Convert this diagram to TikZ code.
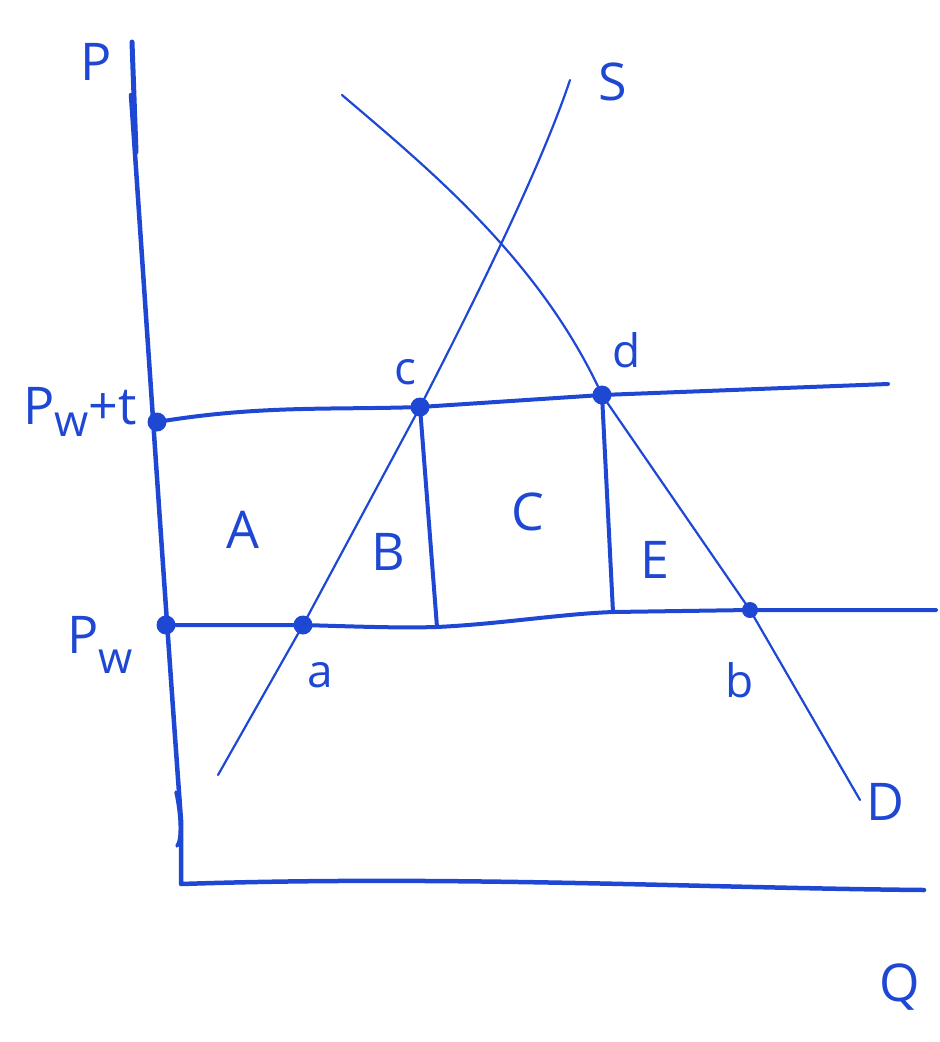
\documentclass[tikz,border=0pt]{standalone}
\usepackage{fontspec}
\setmainfont{Open Sans}
\definecolor{ink}{RGB}{30,72,212}
\begin{document}
\begin{tikzpicture}[x=1pt,y=-1pt,
  axis/.style={draw=ink,line width=4.5pt,line cap=round,line join=round},
  pline/.style={draw=ink,line width=4pt,line cap=round,line join=round},
  curve/.style={draw=ink,line width=2.2pt,line cap=round},
  dot/.style={circle,fill=ink,inner sep=0pt,minimum size=19pt},
  lab/.style={text=ink,font=\fontsize{52}{58}\selectfont,inner sep=0pt},
  slab/.style={text=ink,font=\fontsize{46}{52}\selectfont,inner sep=0pt}]
\useasboundingbox (0,0) rectangle (940,1042);
% key points
\coordinate (ytop) at (131,95);
\coordinate (origin) at (181,884);
\coordinate (xend) at (924,890);
\coordinate (c) at (420,407);
\coordinate (d) at (602,395);
\coordinate (a) at (303,625);
\coordinate (b) at (750,610);
\coordinate (pt) at (157,422);
\coordinate (pw) at (166,625);
\coordinate (cfoot) at (437,627);
\coordinate (dfoot) at (613,612);
% axes
\draw[axis] (ytop) .. controls (145,300) and (165,600) .. (181,820) -- (origin)
  .. controls (450,875) and (700,888) .. (xend);
\draw[axis,line width=5pt] (132,42) -- (136,152);
\draw[axis,line width=3.5pt] (176,792) .. controls (181,815) and (182,840) .. (177,846);
% horizontal price lines
\draw[pline] (pt) .. controls (260,405) and (330,410) .. (c)
  -- (d) -- (888,384);
\draw[pline] (pw) -- (a) .. controls (370,627) and (400,628) .. (cfoot)
  .. controls (500,624) and (560,614) .. (dfoot) -- (b) -- (936,610);
% verticals
\draw[pline] (c) -- (cfoot);
\draw[pline] (d) -- (dfoot);
% supply
\draw[curve] (218,775) -- (a) -- (c) .. controls (470,310) and (540,170) .. (570,80);
% demand
\draw[curve] (342,95) .. controls (430,170) and (540,260) .. (d) -- (b) -- (860,800);
% dots
\foreach \p in {pt,pw,a,c,d} \node[dot] at (\p) {};
\node[dot,minimum size=16pt] at (b) {};
% labels
\node[lab] (lP) at (96,62) {P};
\node[lab] (lS) at (613,82) {S};
\node[lab] (lPt) at (80,412) {P\raisebox{-0.45ex}{\fontsize{44}{48}\selectfont w}+t};
\node[lab] (lPw) at (100,645) {P\raisebox{-0.7ex}{\fontsize{44}{48}\selectfont w}};
\node[lab] (lA) at (243,530) {A};
\node[lab] (lB) at (388,552) {B};
\node[lab] (lC) at (528,512) {C};
\node[lab] (lE) at (655,560) {E};
\node[slab] (la) at (320,675) {a};
\node[slab] (lb) at (740,680) {b};
\node[slab] (lc) at (405,372) {c};
\node[slab] (ld) at (627,350) {d};
\node[lab] (lD) at (885,802) {D};
\node[lab] (lQ) at (900,987) {Q};
\end{tikzpicture}
\end{document}
